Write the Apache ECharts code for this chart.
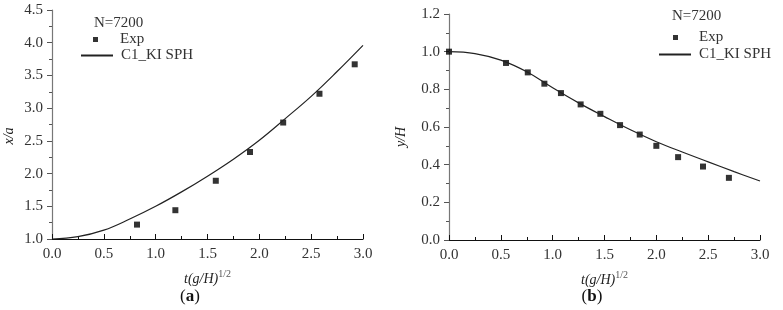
<!DOCTYPE html>
<html>
<head>
<meta charset="utf-8">
<script src="https://cdn.jsdelivr.net/npm/echarts@6/dist/echarts.min.js"></script>
<style>
  html, body { margin: 0; padding: 0; background: #fff; }
  #chart { width: 783px; height: 310px; }
</style>
</head>
<body>
<div id="chart"></div>
<script>
// ── Data ──────────────────────────────────────────────────────────────────────

// (a) horizontal front position x/a
const expA_t = [0.82, 1.19, 1.58, 1.91, 2.23, 2.58, 2.92];
const expA_x = [1.22, 1.44, 1.89, 2.33, 2.78, 3.22, 3.67];
const sphA_t = [0, 0.25, 0.5, 0.75, 1.0, 1.25, 1.5, 1.75, 2.0, 2.25, 2.5, 2.75, 3.0];
const sphA_x = [1.0, 1.035, 1.135, 1.305, 1.50, 1.72, 1.96, 2.22, 2.51, 2.84, 3.18, 3.56, 3.96];

// (b) column height y/H
const expB_t = [0, 0.55, 0.76, 0.92, 1.08, 1.27, 1.46, 1.65, 1.84, 2.0, 2.21, 2.45, 2.70];
const expB_y = [1.0, 0.94, 0.89, 0.83, 0.78, 0.72, 0.67, 0.61, 0.56, 0.50, 0.44, 0.39, 0.33];
const sphB_t = [0, 0.25, 0.5, 0.75, 1.0, 1.25, 1.5, 1.75, 2.0, 2.25, 2.5, 2.75, 3.0];
const sphB_y = [1.0, 0.99, 0.955, 0.893, 0.808, 0.728, 0.655, 0.585, 0.522, 0.467, 0.415, 0.363, 0.313];

const caseLabel = 'N=7200';
const seriesNames = ['Exp', 'C1_KI SPH'];

// ── Helpers ───────────────────────────────────────────────────────────────────

const SERIF = '"Liberation Serif", "DejaVu Serif", serif';
const zip = (xs, ys) => xs.map((x, i) => [x, ys[i]]);

function xAxisFor(gridIndex) {
  return {
    type: 'value', gridIndex, min: 0, max: 3, interval: 0.5,
    name: '{i|t(g/H)}{s|1/2}', nameLocation: 'middle', nameGap: 30,
    nameTextStyle: {
      rich: {
        i: { fontFamily: SERIF, fontStyle: 'italic', fontSize: 14, color: '#222', lineHeight: 20 },
        s: { fontFamily: SERIF, fontSize: 10, color: '#555', verticalAlign: 'top' },
      },
    },
    axisLine: { lineStyle: { color: '#111', width: 1.2 } },
    axisTick: { inside: true, length: 5, lineStyle: { color: '#111' } },
    minorTick: { show: true, splitNumber: 2, length: 3, lineStyle: { color: '#111' } },
    splitLine: { show: false },
    axisLabel: { fontFamily: SERIF, fontSize: 15, color: '#333', margin: 8, formatter: v => v.toFixed(1) },
  };
}

function yAxisFor(gridIndex, min, max, interval) {
  return {
    type: 'value', gridIndex, min, max, interval,
    axisLine: { show: true, lineStyle: { color: '#777', width: 1.2 } },
    axisTick: { show: true, length: 5, lineStyle: { color: '#555' } },
    minorTick: { show: true, splitNumber: 2, length: 3, lineStyle: { color: '#555' } },
    splitLine: { show: false },
    axisLabel: { fontFamily: SERIF, fontSize: 15, color: '#333', margin: 9, formatter: v => v.toFixed(1) },
  };
}

// two legends per panel: square marker entry, then line entry (no dot on the line)
function legendPair(exp, line) {
  return [
    {
      data: [seriesNames[0]], orient: 'vertical', left: exp.x, top: exp.y, padding: 0,
      itemWidth: 5, itemHeight: 5, selectedMode: false,
      textStyle: { fontFamily: SERIF, fontSize: 15, color: '#333', padding: [0, 0, 0, exp.pad] },
    },
    {
      data: [seriesNames[1]], orient: 'vertical', left: line.x, top: line.y, padding: 0,
      itemWidth: 32, itemHeight: 10, selectedMode: false,
      itemStyle: { opacity: 0 },
      textStyle: { fontFamily: SERIF, fontSize: 15, color: '#333', padding: [0, 0, 0, line.pad] },
    },
  ];
}

// ── Chart ─────────────────────────────────────────────────────────────────────

const chart = echarts.init(document.getElementById('chart'), null, { renderer: 'canvas' });

chart.setOption({
  animation: false,
  backgroundColor: '#fff',
  title: [
    { text: caseLabel, left: 89, top: 11, textStyle: { fontFamily: SERIF, fontSize: 15, fontWeight: 'normal', color: '#333' } },
    { text: caseLabel, left: 667, top: 4, textStyle: { fontFamily: SERIF, fontSize: 15, fontWeight: 'normal', color: '#333' } },
  ],
  legend: [
    ...legendPair({ x: 93, y: 32, pad: 17 }, { x: 80, y: 48, pad: 3 }),
    ...legendPair({ x: 673, y: 30, pad: 16 }, { x: 658, y: 47, pad: 3 }),
  ],
  grid: [
    { left: 52, top: 10, width: 311, height: 229 },
    { left: 449, top: 14, width: 311, height: 226 },
  ],
  xAxis: [xAxisFor(0), xAxisFor(1)],
  yAxis: [yAxisFor(0, 1, 4.5, 0.5), yAxisFor(1, 0, 1.2, 0.2)],
  series: [
    {
      name: seriesNames[0], type: 'scatter', xAxisIndex: 0, yAxisIndex: 0,
      symbol: 'rect', symbolSize: 6, itemStyle: { color: '#000' },
      data: zip(expA_t, expA_x),
    },
    {
      name: seriesNames[1], type: 'line', xAxisIndex: 0, yAxisIndex: 0,
      symbol: 'none', smooth: 0.4, lineStyle: { color: '#222', width: 1.2 },
      data: zip(sphA_t, sphA_x),
    },
    {
      name: seriesNames[0], type: 'scatter', xAxisIndex: 1, yAxisIndex: 1,
      symbol: 'rect', symbolSize: 6, itemStyle: { color: '#000' },
      data: zip(expB_t, expB_y),
    },
    {
      name: seriesNames[1], type: 'line', xAxisIndex: 1, yAxisIndex: 1,
      symbol: 'none', smooth: 0.4, lineStyle: { color: '#222', width: 1.2 },
      data: zip(sphB_t, sphB_y),
    },
  ],
  graphic: [
    { type: 'text', x: 9, y: 136, rotation: Math.PI / 2,
      style: { text: 'x/a', fontFamily: SERIF, fontStyle: 'italic', fontSize: 14, fill: '#222', align: 'center', verticalAlign: 'middle' } },
    { type: 'text', x: 401, y: 137, rotation: Math.PI / 2,
      style: { text: 'y/H', fontFamily: SERIF, fontStyle: 'italic', fontSize: 14, fill: '#222', align: 'center', verticalAlign: 'middle' } },
    { type: 'text', x: 190, y: 297,
      style: { text: '({b|a})', fontFamily: SERIF, fontSize: 17, fill: '#111', align: 'center', verticalAlign: 'middle',
        rich: { b: { fontFamily: SERIF, fontSize: 17, fontWeight: 'bold', fill: '#111' } } } },
    { type: 'text', x: 592, y: 297,
      style: { text: '({b|b})', fontFamily: SERIF, fontSize: 17, fill: '#111', align: 'center', verticalAlign: 'middle',
        rich: { b: { fontFamily: SERIF, fontSize: 17, fontWeight: 'bold', fill: '#111' } } } },
  ],
});
</script>
</body>
</html>
